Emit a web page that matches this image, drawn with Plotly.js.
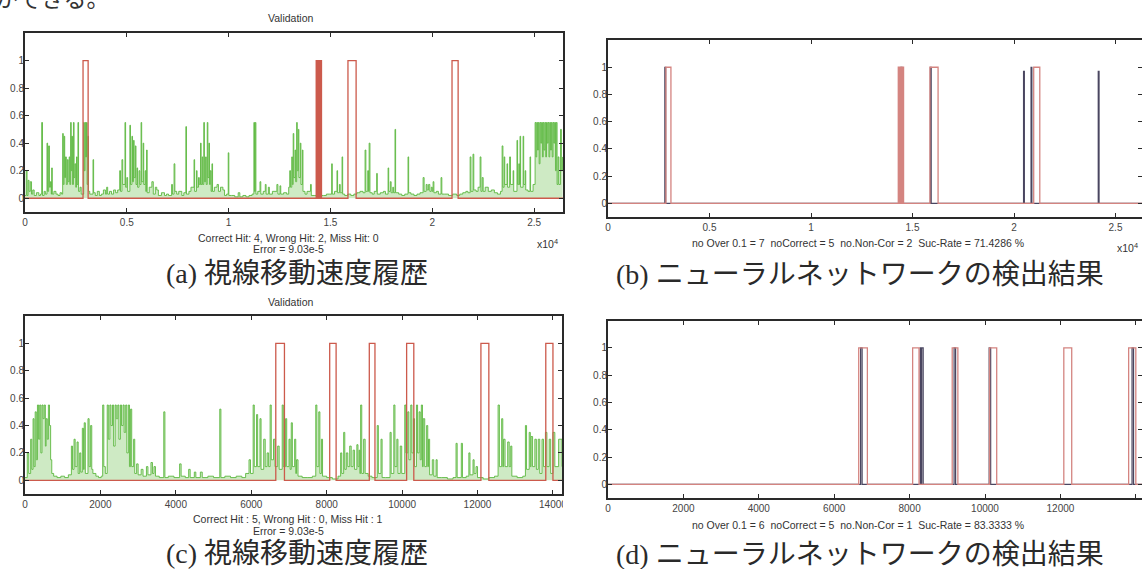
<!DOCTYPE html>
<html>
<head>
<meta charset="utf-8">
<script src="https://cdn.plot.ly/plotly-3.0.1.min.js"></script>
<style>
  html, body { margin: 0; padding: 0; background: #fff; overflow: hidden; }
  #fig { width: 1142px; height: 569px; }
</style>
</head>
<body>
<div id="fig"></div>
<script>
// ---------- data ----------
// Gaze-velocity history, run 1 (sample index, normalised speed)
const speedIdxA = [0,60,100,150,200,260,320,380,450,560,680,760,820,860,940,1000,1080,1110,1160,1200,1250,1290,1310,1340,1420,1520,1620,1720,1800,
  1850,1880,1920,1950,1990,2030,2080,2120,2170,2200,2240,2270,2300,2330,2380,2410,2450,2490,2530,2560,2600,2630,2700,2760,
  2880,2910,2950,2980,3020,3050,3090,3120,3180,3340,3370,3450,3550,3650,3750,3850,3950,4010,4060,4150,4250,4350,4450,4550,
  4650,4690,4760,4800,4910,4940,5000,5040,5150,5180,5250,5280,5330,5360,5420,5450,5500,5530,5600,5640,5700,5730,5800,5830,5900,5930,5970,6000,6100,6230,6300,6400,6470,6550,6700,6850,6950,7050,
  7200,7240,7320,7360,7450,7550,7700,7800,7900,7930,8050,8150,8300,8330,8420,8450,8520,8560,8620,8650,8700,8730,8780,8810,8870,8900,8950,8980,9030,9060,9100,9140,9180,9210,9300,9430,9500,9600,9720,9800,9900,9980,10010,10150,10300,10470,10550,10700,10850,11000,11150,
  11240,11270,11310,11340,11430,11540,11580,11700,11800,11840,11950,12000,12150,12370,12420,12520,12560,12700,12850,12950,
  13000,13040,13100,13130,13170,13200,13260,13290,13340,13370,13420,13450,13520,13550,13620,13650,13750,13850,14020,14060,14200,14350,14500,14650,14800,14950,
  15060,15090,15200,15320,15350,15440,15480,15570,15600,15700,15850,16000,16150,16300,16450,16600,
  16700,16740,16830,16870,16900,16940,17050,17150,17270,17300,17450,17600,17700,17830,17860,17940,17980,18060,18100,18170,18200,18350,18500,18650,18810,18840,18950,19100,19250,19400,
  19550,19600,19700,19750,19820,19880,19950,20000,20040,20080,20200,20300,20430,20470,20600,20800,21000,21200,21350,21500,21650,21750,
  21860,21900,22000,22040,22150,22250,22350,22390,22450,22500,22600,22750,22900,23050,23200,23350,
  23430,23470,23530,23560,23670,23700,23800,23840,23970,24000,24160,24190,24250,24280,24310,24340,24460,24490,24560,24590,24700,24800,24830,24950,
  25050,25090,25130,25170,25210,25250,25290,25330,25370,25410,25450,25490,25530,25570,25610,25650,25690,25730,25770,25810,25850,25890,25930,25970,26010,26050,26090,26130,26180,26220,26300,26340,26400];
const speedValA = [0.02,0.2,0.02,0.13,0.05,0.12,0.03,0.06,0.02,0.04,0.02,0.03,0.55,0.02,0.05,0.03,0.40,0.05,0.38,0.08,0.12,0.03,0.22,0.03,0.05,0.03,0.02,0.04,0.03,
  0.47,0.10,0.45,0.15,0.30,0.10,0.28,0.12,0.30,0.10,0.55,0.20,0.45,0.10,0.55,0.15,0.25,0.08,0.30,0.10,0.55,0.05,0.08,0.03,
  0.55,0.20,0.55,0.30,0.55,0.10,0.45,0.05,0.03,0.28,0.04,0.02,0.05,0.02,0.03,0.06,0.03,0.08,0.03,0.05,0.03,0.06,0.04,0.06,
  0.20,0.05,0.28,0.10,0.55,0.08,0.15,0.05,0.53,0.10,0.45,0.12,0.42,0.15,0.38,0.10,0.22,0.08,0.20,0.10,0.55,0.12,0.40,0.10,0.20,0.05,0.35,0.04,0.08,0.12,0.03,0.08,0.06,0.02,0.04,0.02,0.03,0.02,
  0.10,0.03,0.25,0.05,0.03,0.05,0.02,0.04,0.52,0.03,0.05,0.08,0.28,0.05,0.20,0.08,0.15,0.10,0.40,0.10,0.30,0.10,0.55,0.12,0.30,0.10,0.55,0.15,0.40,0.10,0.20,0.05,0.25,0.05,0.08,0.10,0.05,0.08,0.06,0.02,0.03,0.33,0.02,0.02,0.01,0.04,0.01,0.02,0.01,0.02,0.03,
  0.55,0.05,0.55,0.03,0.05,0.12,0.03,0.05,0.10,0.03,0.08,0.03,0.05,0.10,0.03,0.09,0.03,0.04,0.03,0.08,
  0.20,0.08,0.30,0.10,0.47,0.15,0.35,0.12,0.55,0.20,0.50,0.15,0.40,0.10,0.35,0.05,0.03,0.05,0.10,0.02,0.02,0.01,0.02,0.02,0.03,0.03,
  0.25,0.03,0.05,0.20,0.04,0.10,0.04,0.30,0.03,0.02,0.03,0.02,0.03,0.04,0.05,0.04,
  0.35,0.05,0.20,0.05,0.40,0.04,0.03,0.05,0.18,0.03,0.04,0.05,0.03,0.22,0.05,0.12,0.04,0.08,0.04,0.50,0.04,0.03,0.02,0.03,0.30,0.04,0.03,0.02,0.03,0.04,
  0.15,0.05,0.10,0.06,0.10,0.05,0.08,0.05,0.12,0.04,0.05,0.03,0.15,0.03,0.03,0.02,0.03,0.02,0.03,0.04,0.05,0.04,
  0.30,0.05,0.32,0.06,0.05,0.08,0.30,0.05,0.15,0.05,0.08,0.05,0.06,0.04,0.03,0.05,
  0.38,0.08,0.30,0.10,0.25,0.08,0.30,0.10,0.20,0.05,0.42,0.10,0.25,0.10,0.45,0.08,0.45,0.10,0.20,0.06,0.05,0.30,0.05,0.10,
  0.55,0.30,0.55,0.35,0.55,0.25,0.55,0.40,0.55,0.30,0.55,0.35,0.55,0.30,0.55,0.40,0.55,0.30,0.55,0.35,0.55,0.30,0.55,0.40,0.55,0.20,0.55,0.10,0.30,0.10,0.50,0.20,0.30];

// Gaze-velocity history, run 2
const speedIdxC = [0,60,100,150,180,214,240,270,300,330,360,390,420,450,480,510,540,560,590,620,650,680,710,760,850,950,1050,1150,
  1230,1260,1300,1330,1380,1410,1450,1480,1520,1550,1570,1600,1670,1700,1740,1770,1800,1880,1950,2020,
  2060,2090,2130,2180,2210,2250,2280,2320,2350,2390,2420,2460,2490,2530,2560,2600,2630,2670,2700,2740,2770,2800,2830,2880,2910,2960,3000,3080,3130,3220,3260,3340,3380,3420,3460,3560,3680,3710,3800,3950,4100,4140,4250,4340,4380,4490,4530,4650,4700,4850,5000,5165,5195,5300,5450,5600,5750,5850,
  5940,5980,6050,6080,6140,6170,6230,6260,6330,6370,6420,6460,6500,6530,6590,6630,6700,6740,6820,6850,6910,6940,7000,7030,7060,7090,7150,7180,7200,7240,7350,7500,7620,
  7710,7740,7790,7820,7860,7890,8000,8150,8300,
  8370,8400,8450,8480,8520,8560,8610,8650,8700,8740,8800,8830,8860,8880,8900,8930,8980,9020,9100,9200,9340,9370,9440,9470,9560,
  9680,9710,9780,9810,9860,9890,9950,9990,10070,10100,10150,10180,10230,10260,10300,10330,10380,10410,10450,10480,10510,10540,10560,10600,10650,10680,10700,10730,10800,10840,10900,10930,11050,11200,11350,
  11430,11460,11570,11600,11700,11770,11800,11880,11910,11960,12000,12150,12300,12450,
  12545,12580,12640,12670,12690,12730,12800,12840,12880,12910,13050,13200,
  13270,13300,13370,13400,13420,13460,13520,13560,13610,13650,13710,13750,13800,13840,13900,13940,14000,14050,14150,14240];
const speedValC = [0.02,0.20,0.05,0.30,0.08,0.45,0.10,0.50,0.15,0.55,0.30,0.55,0.20,0.55,0.45,0.55,0.25,0.45,0.30,0.55,0.40,0.15,0.05,0.03,0.02,0.03,0.02,0.04,
  0.25,0.08,0.30,0.10,0.28,0.05,0.20,0.06,0.38,0.08,0.42,0.05,0.45,0.10,0.40,0.08,0.05,0.03,0.02,0.03,
  0.55,0.10,0.05,0.55,0.30,0.55,0.40,0.55,0.25,0.55,0.45,0.55,0.30,0.55,0.40,0.55,0.35,0.55,0.20,0.55,0.10,0.52,0.10,0.30,0.05,0.12,0.04,0.08,0.03,0.10,0.04,0.13,0.05,0.10,0.03,0.02,0.50,0.02,0.03,0.02,0.12,0.03,0.02,0.08,0.02,0.06,0.02,0.06,0.02,0.03,0.02,0.52,0.02,0.03,0.02,0.03,0.02,0.05,
  0.15,0.05,0.55,0.10,0.48,0.10,0.45,0.08,0.30,0.10,0.20,0.10,0.55,0.15,0.30,0.10,0.25,0.08,0.55,0.10,0.45,0.10,0.30,0.08,0.42,0.10,0.30,0.05,0.15,0.03,0.02,0.02,0.03,
  0.55,0.10,0.50,0.05,0.30,0.03,0.02,0.01,0.03,
  0.20,0.05,0.35,0.08,0.20,0.10,0.25,0.10,0.22,0.08,0.26,0.10,0.22,0.05,0.55,0.05,0.30,0.05,0.03,0.02,0.40,0.05,0.30,0.02,0.02,
  0.35,0.05,0.55,0.10,0.30,0.05,0.25,0.05,0.55,0.20,0.50,0.15,0.55,0.20,0.45,0.10,0.55,0.20,0.50,0.15,0.55,0.10,0.45,0.10,0.40,0.10,0.30,0.04,0.15,0.03,0.15,0.02,0.02,0.01,0.02,
  0.27,0.02,0.27,0.02,0.03,0.20,0.04,0.15,0.05,0.10,0.02,0.01,0.02,0.03,
  0.55,0.10,0.45,0.10,0.30,0.10,0.28,0.10,0.25,0.03,0.02,0.03,
  0.40,0.08,0.35,0.10,0.32,0.10,0.30,0.08,0.30,0.05,0.30,0.10,0.35,0.10,0.30,0.05,0.35,0.10,0.30,0.10];

// Target saccade intervals (start / end sample)
const targetStartA = [2850, 14300, 14400, 14500, 15860, 20970];
const targetEndA   = [3100, 14360, 14460, 14560, 16260, 21270];
const targetStartC = [6650, 8080, 9130, 10120, 12090, 13810];
const targetEndC   = [6880, 8250, 9280, 10310, 12300, 14000];

// Network detections (start / end sample, output level)
const detectStartB = [2800, 14430, 15880, 20470, 20840, 24150];
const detectEndB   = [2840, 14480, 15920, 20510, 20880, 24190];
const detectLevelB = [1, 1, 1, 0.97, 1, 0.97];
const detectStartD = [6700, 8280, 8320, 9180, 10110, 13900];
const detectEndD   = [6740, 8310, 8360, 9220, 10150, 13940];
const detectLevelD = [1, 1, 1, 1, 1, 1];

const samplesA = 26420;
const samplesC = 14240;

const yTickVals = [0, 0.2, 0.4, 0.6, 0.8, 1];
const yTickText = ['0', '0.2', '0.4', '0.6', '0.8', '1'];
const xTickValsA = [0, 5000, 10000, 15000, 20000, 25000];
const xTickTextA = ['0', '0.5', '1', '1.5', '2', '2.5'];
const xTickValsC = [0, 2000, 4000, 6000, 8000, 10000, 12000, 14000];
const xTickTextC = ['0', '2000', '4000', '6000', '8000', '10000', '12000', '14000'];

// ---------- helpers ----------
const W = 1142, H = 569;
const px = v => v / W;
const py = v => 1 - v / H;

function pulses(starts, ends, levels, total) {
  const x = [0], y = [0];
  starts.forEach((s, i) => {
    const lv = levels ? levels[i] : 1;
    x.push(s, s, ends[i], ends[i]);
    y.push(0, lv, lv, 0);
  });
  x.push(total); y.push(0);
  return { x, y };
}

const green = '#5cb840';
const greenFill = 'rgba(104,190,72,0.32)';
const red = '#cc5a4c';
const pink = '#d48480';
const dark = '#4a4660';

const tA = pulses(targetStartA, targetEndA, null, samplesA);
const tC = pulses(targetStartC, targetEndC, null, samplesC);
const dB = pulses(detectStartB, detectEndB, detectLevelB, samplesA);
const dD = pulses(detectStartD, detectEndD, detectLevelD, samplesC);

// speed history: sample-and-hold trace with a light fill down to zero
function speedTrace(x, y, xa, ya) {
  return { x: x, y: y, xaxis: xa, yaxis: ya, mode: 'lines',
    line: { color: green, width: 0.9, shape: 'hv' }, fill: 'tozeroy', fillcolor: greenFill };
}

const traces = [
  speedTrace(speedIdxA, speedValA, 'x', 'y'),
  { x: tA.x, y: tA.y, xaxis: 'x', yaxis: 'y', mode: 'lines', line: { color: red, width: 1.3 } },
  { x: dB.x, y: dB.y, xaxis: 'x2', yaxis: 'y2', mode: 'lines', line: { color: dark, width: 1.2 } },
  { x: tA.x, y: tA.y, xaxis: 'x2', yaxis: 'y2', mode: 'lines', line: { color: pink, width: 1.3 } },
  speedTrace(speedIdxC, speedValC, 'x3', 'y3'),
  { x: tC.x, y: tC.y, xaxis: 'x3', yaxis: 'y3', mode: 'lines', line: { color: red, width: 1.3 } },
  { x: dD.x, y: dD.y, xaxis: 'x4', yaxis: 'y4', mode: 'lines', line: { color: dark, width: 1.2 } },
  { x: tC.x, y: tC.y, xaxis: 'x4', yaxis: 'y4', mode: 'lines', line: { color: pink, width: 1.3 } }
];

const tickFont = { family: 'Liberation Sans, Arial, sans-serif', size: 10, color: '#444' };
const frame = {
  showline: true, linecolor: '#2a2a2a', linewidth: 2, mirror: 'ticks',
  ticks: 'inside', ticklen: 4, tickcolor: '#2a2a2a', tickwidth: 1,
  showgrid: false, zeroline: false, fixedrange: true, tickfont: tickFont
};
function xAxis(dom, range, vals, text, anchor) {
  return Object.assign({ domain: [px(dom[0]), px(dom[1])], range: range, anchor: anchor,
    tickvals: vals, ticktext: text }, frame);
}
function yAxis(dom, anchor) {
  return Object.assign({ domain: [py(dom[1]), py(dom[0])], range: [-0.1, 1.2], anchor: anchor,
    tickvals: yTickVals, ticktext: yTickText, ticklabelstandoff: -3 }, frame);
}

const small = { family: 'Liberation Sans, Arial, sans-serif', size: 10.5, color: '#333' };
const capFont = { family: 'Liberation Serif, Noto Sans CJK JP, serif', size: 28, color: '#2a2a2a' };
function note(text, x, y, font) {
  return { text: text, xref: 'paper', yref: 'paper', x: px(x), y: py(y),
    xanchor: 'center', yanchor: 'middle', showarrow: false, font: font };
}

const layout = {
  width: W, height: H,
  margin: { l: 0, r: 0, t: 0, b: 0 },
  paper_bgcolor: '#fff', plot_bgcolor: '#fff',
  showlegend: false,
  xaxis:  xAxis([25, 563], [0, samplesA], xTickValsA, xTickTextA, 'y'),
  yaxis:  yAxis([33, 212], 'x'),
  xaxis2: xAxis([608, 1142], [0, 26305], xTickValsA, xTickTextA, 'y2'),
  yaxis2: yAxis([40, 217], 'x2'),
  xaxis3: xAxis([25, 562], [0, samplesC], xTickValsC, xTickTextC, 'y3'),
  yaxis3: yAxis([316, 494], 'x3'),
  xaxis4: xAxis([608, 1142], [0, 14164], xTickValsC, xTickTextC, 'y4'),
  yaxis4: yAxis([320.5, 498], 'x4'),
  shapes: [
    { type: 'rect', xref: 'paper', yref: 'paper', layer: 'above',
      x0: px(563), x1: px(600), y0: py(514), y1: py(497),
      fillcolor: '#fff', line: { width: 0 } }
  ],
  annotations: [
    note('ができる。', 52, -3, { family: 'Noto Sans CJK JP, serif', size: 23, color: '#333' }),
    note('Validation', 290, 18, small),
    note('Correct Hit: 4, Wrong Hit: 2, Miss Hit: 0', 288, 238, small),
    note('Error = 9.03e-5', 288, 249, small),
    note('x10<sup>4</sup>', 547, 243, small),
    note('no Over 0.1 = 7  noCorrect = 5  no.Non-Cor = 2  Suc-Rate = 71.4286 %', 858, 243, small),
    note('x10<sup>4</sup>', 1127, 248, small),
    note('(a) 視線移動速度履歴', 297, 273, capFont),
    note('(b) ニューラルネットワークの検出結果', 860, 274, capFont),
    note('Validation', 290, 302, small),
    note('Correct Hit : 5, Wrong Hit : 0, Miss Hit : 1', 288, 519, small),
    note('Error = 9.03e-5', 288, 531, small),
    note('no Over 0.1 = 6  noCorrect = 5  no.Non-Cor = 1  Suc-Rate = 83.3333 %', 858, 525, small),
    note('(c) 視線移動速度履歴', 297, 553, capFont),
    note('(d) ニューラルネットワークの検出結果', 860, 554, capFont)
  ]
};

Plotly.newPlot('fig', traces, layout, { staticPlot: true, displayModeBar: false });
</script>
</body>
</html>
